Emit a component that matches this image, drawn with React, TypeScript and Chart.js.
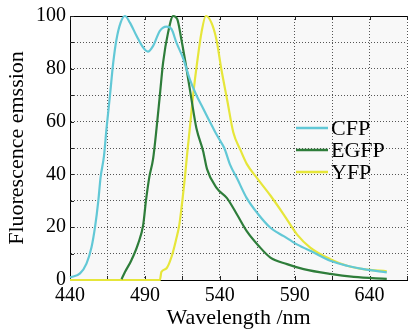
import React, { useEffect, useRef } from "react";
import { Chart, registerables } from "chart.js";

Chart.register(...registerables);

const seriesNames = ["CFP", "EGFP", "YFP"];
const seriesColors = ["#62c8d6", "#2e7d3a", "#e6e63a"];

const cfpNm = [440, 446.7, 451, 454.4, 456.7, 458.9, 460.4, 462.7, 464.4, 466.7, 468.9, 471, 473.8, 476.7, 480, 484.4, 488.9, 492, 495.5, 500, 504.4, 507.8, 511, 515.5, 520, 524.4, 528.9, 533.3, 537, 540, 543, 547, 551.5, 558, 565, 573.8, 582.7, 591.5, 602.7, 613.8, 625, 636, 651.5];
const cfpVal = [1, 2.5, 6.2, 12.5, 20, 30, 38.8, 47, 57.5, 70, 82.5, 91, 97.5, 100, 97.5, 92.5, 88, 86.5, 88.7, 94.4, 96, 95, 90, 84, 76, 70, 65, 60, 56, 53, 50, 43.5, 38.5, 31, 25.4, 19.8, 16.6, 13.5, 10.4, 7.3, 5.4, 4.1, 2.9];

const egfpNm = [474.4, 476.7, 481, 485.5, 488.9, 490.7, 492.9, 495.5, 497.8, 500, 502.2, 505.5, 508.9, 511.6, 514.4, 517.8, 521, 524.4, 528.9, 531.5, 538, 544.8, 551.5, 558, 566, 573.8, 584.9, 596, 613.8, 629.5, 651.5];
const egfpVal = [0.3, 3, 7.5, 13.8, 21, 30, 38.8, 46, 57.5, 70, 82.5, 93.8, 100, 98.8, 91, 80, 68.8, 57.5, 48.8, 42, 34.8, 31, 24.8, 18.5, 12.9, 8.5, 6, 4.1, 2.3, 1.2, 0.4];

const yfpNm = [440, 500, 501, 504.4, 507.8, 510.7, 513, 515, 516.7, 518.4, 520, 522.2, 524.9, 527.8, 530.7, 534.4, 537.8, 541, 545, 549, 554, 558, 565, 573.8, 582.7, 591.5, 600.4, 613.8, 625, 636, 651.5];
const yfpVal = [0, 0, 3, 4.4, 8.8, 15, 21, 30, 38.8, 48.8, 57.5, 70, 82.5, 93.8, 100, 97.5, 91, 80, 68, 56, 49, 44, 38.5, 32, 24.8, 17.3, 12.3, 7.9, 5.4, 4.1, 3.3];

const xTickLabels = [440, 490, 540, 590, 640];
const yTickLabels = [0, 20, 40, 60, 80, 100];

const xTitle = "Wavelength /nm";
const yTitle = "Fluorescence emssion";

const FONT = "'Liberation Serif', 'Times New Roman', serif";

const toPoints = (xs: number[], ys: number[]) => xs.map((x, i) => ({ x, y: ys[i] }));

const framePlugin = {
  id: "frame",
  beforeDatasetsDraw(chart: any) {
    const { ctx, chartArea } = chart;
    ctx.save();
    ctx.strokeStyle = "#000";
    ctx.lineWidth = 1;
    ctx.beginPath();
    ctx.moveTo(chartArea.left, chartArea.top + 0.5);
    ctx.lineTo(chartArea.right, chartArea.top + 0.5);
    ctx.stroke();
    const xs = chart.scales.x;
    const ys = chart.scales.y;
    ctx.strokeStyle = "#222";
    xs.ticks.forEach((t: any) => {
      const px = Math.round(xs.getPixelForValue(t.value)) + 0.5;
      ctx.beginPath();
      ctx.moveTo(px, chartArea.top);
      ctx.lineTo(px, chartArea.top + 4);
      ctx.moveTo(px, chartArea.bottom);
      ctx.lineTo(px, chartArea.bottom - 4);
      ctx.stroke();
    });
    ys.ticks.forEach((t: any) => {
      const py = Math.round(ys.getPixelForValue(t.value)) + 0.5;
      ctx.beginPath();
      ctx.moveTo(chartArea.left, py);
      ctx.lineTo(chartArea.left + 4, py);
      ctx.stroke();
    });
    ctx.restore();
  },
  beforeDraw(chart: any) {
    const { ctx, chartArea } = chart;
    ctx.save();
    ctx.fillStyle = "#f8f8f8";
    ctx.fillRect(chartArea.left, chartArea.top, chartArea.right - chartArea.left, chartArea.bottom - chartArea.top);
    ctx.restore();
  },
  afterDraw(chart: any) {
    const { ctx, chartArea } = chart;
    ctx.save();
    const x0 = chartArea.left + 226;
    const y0 = chartArea.top + 112;
    const rowH = 22;
    ctx.font = `22px ${FONT}`;
    ctx.textBaseline = "middle";
    ctx.textAlign = "left";
    seriesNames.forEach((name, i) => {
      const y = y0 + i * rowH;
      ctx.strokeStyle = seriesColors[i];
      ctx.lineWidth = 2.5;
      ctx.beginPath();
      ctx.moveTo(x0, y);
      ctx.lineTo(x0 + 32, y);
      ctx.stroke();
      ctx.fillStyle = "#000";
      ctx.fillText(name, x0 + 35, y + 1);
    });
    ctx.restore();
  },
};

export default function App() {
  const ref = useRef<HTMLCanvasElement>(null);
  useEffect(() => {
    const canvas = ref.current;
    if (!canvas) return;
    const series = [toPoints(cfpNm, cfpVal), toPoints(egfpNm, egfpVal), toPoints(yfpNm, yfpVal)];
    const chart = new Chart(canvas, {
      type: "line",
      data: {
        datasets: seriesNames.map((name, i) => ({
          label: name,
          data: series[i],
          borderColor: seriesColors[i],
          backgroundColor: seriesColors[i],
          borderWidth: 2.2,
          pointRadius: 0,
          cubicInterpolationMode: "monotone",
          fill: false,
          clip: 2,
        })),
      },
      options: {
        animation: false,
        responsive: false,
        maintainAspectRatio: false,
        layout: { padding: { top: 14, left: 0, right: 0, bottom: 0 } },
        plugins: { legend: { display: false }, tooltip: { enabled: false } },
        scales: {
          x: {
            type: "linear",
            min: 440,
            max: 665,
            afterFit: (s: any) => { s.height = 49; },
            ticks: {
              stepSize: 25,
              autoSkip: false,
              maxRotation: 0,
              padding: 4,
              color: "#000",
              font: { family: FONT, size: 20 },
              callback: (v: any) => (xTickLabels.includes(Number(v)) ? String(v) : ""),
            },
            grid: { color: "#555", lineWidth: 1, drawTicks: false },
            border: { display: true, color: "#000", width: 1, dash: [1, 2] },
            title: {
              display: true,
              text: xTitle,
              color: "#000",
              font: { family: FONT, size: 22, lineHeight: 1 },
              padding: { top: 0, bottom: 0 },
            },
          },
          y: {
            min: 0,
            max: 100,
            afterFit: (s: any) => { s.width = 70; },
            ticks: {
              stepSize: 10,
              autoSkip: false,
              padding: 4,
              color: "#000",
              font: { family: FONT, size: 20 },
              callback: (v: any) => (yTickLabels.includes(Number(v)) ? String(v) : ""),
            },
            grid: { color: "#555", lineWidth: 1, drawTicks: false },
            border: { display: true, color: "#000", width: 1, dash: [1, 2] },
            title: {
              display: true,
              text: yTitle,
              color: "#000",
              font: { family: FONT, size: 22, lineHeight: 1 },
              padding: { top: 6, bottom: 0 },
            },
          },
        },
      },
      plugins: [framePlugin],
    });
    return () => chart.destroy();
  }, []);
  return (
    <div style={{ position: "absolute", left: 0, top: 0, width: 409, height: 329, overflow: "hidden", background: "#fff" }}>
      <canvas ref={ref} width={411} height={329} style={{ display: "block", width: 411, height: 329 }} />
    </div>
  );
}
